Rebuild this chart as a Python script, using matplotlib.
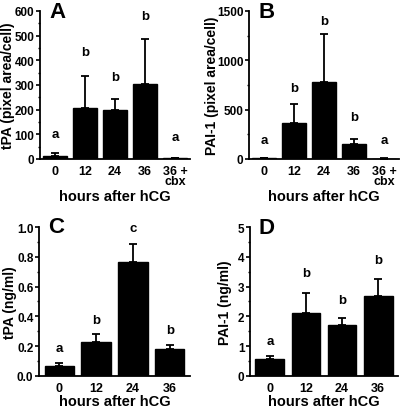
import matplotlib
matplotlib.use("Agg")
import matplotlib.pyplot as plt
from matplotlib.ticker import MultipleLocator

plt.rcParams['font.family'] = ['Liberation Sans', 'DejaVu Sans']
plt.rcParams['font.weight'] = 'bold'
plt.rcParams['axes.labelweight'] = 'bold'

cats5 = ["0", "12", "24", "36", "36 +\ncbx"]
cats4 = ["0", "12", "24", "36"]

a_vals = [13, 206, 198, 303, 2]
a_errs = [10, 132, 47, 184, 2]
a_lets = ["a", "b", "b", "b", "a"]
a_letpos = [101, 432, 331, 578, 90]

b_vals = [5, 367, 777, 147, 3]
b_errs = [4, 190, 488, 60, 2]
b_lets = ["a", "b", "b", "b", "a"]
b_letpos = [193, 716, 1399, 429, 193]

c_vals = [0.066, 0.228, 0.765, 0.18]
c_errs = [0.019, 0.052, 0.122, 0.026]
c_lets = ["a", "b", "c", "b"]
c_letpos = [0.186, 0.375, 0.99, 0.307]

d_vals = [0.57, 2.13, 1.71, 2.67]
d_errs = [0.10, 0.67, 0.22, 0.58]
d_lets = ["a", "b", "b", "b"]
d_letpos = [1.18, 3.45, 2.55, 3.9]

fig = plt.figure(figsize=(4.0, 4.1), dpi=100)

def panel(rect, cats, vals, errs, lets, letpos, ylim, major, minor, ylabel,
          fmt, xlim, letter, lpos, ylab_x, xlab_y):
    ax = fig.add_axes(rect)
    x = list(range(len(cats)))
    ax.bar(x, vals, width=0.8, color='black', edgecolor='black', zorder=2)
    ax.errorbar(x, vals, yerr=[[0]*len(errs), errs], fmt='none',
                ecolor='black', elinewidth=1.3, capsize=3, capthick=1.3, zorder=3)
    for xi, l, p in zip(x, lets, letpos):
        ax.text(xi, p, l, ha='center', va='center', fontsize=9.5, fontweight='bold')
    ax.set_xlim(*xlim)
    ax.set_ylim(*ylim)
    ax.yaxis.set_major_locator(MultipleLocator(major))
    ax.yaxis.set_minor_locator(MultipleLocator(minor))
    ax.yaxis.set_major_formatter(plt.FormatStrFormatter(fmt))
    ax.set_xticks(x)
    ax.set_xticklabels(cats, fontsize=9, fontweight='bold', linespacing=0.85)
    ax.tick_params(axis='x', length=0, pad=4)
    ax.tick_params(axis='y', which='major', length=3, width=1.2, pad=1.0, labelsize=8.5)
    ax.tick_params(axis='y', which='minor', length=1.8, width=1.0)
    for s in ['top', 'right']:
        ax.spines[s].set_visible(False)
    for s in ['left', 'bottom']:
        ax.spines[s].set_linewidth(1.3)
    ax.set_ylabel(ylabel, fontsize=10, fontweight='bold')
    ax.yaxis.set_label_coords(ylab_x, 0.5)
    ax.set_xlabel("hours after hCG", fontsize=10.5, fontweight='bold')
    ax.xaxis.set_label_coords(0.5, xlab_y)
    ax.xaxis.label.set_va('center')
    ax.yaxis.label.set_va('center')
    fig.text(lpos[0] / 400, 1 - lpos[1] / 410, letter, fontsize=16,
             fontweight='bold', ha='left', va='top')
    return ax

panel([0.1, 0.6098, 0.375, 0.361], cats5, a_vals, a_errs, a_lets, a_letpos,
      (0, 600), 100, 50, "tPA (pixel area/cell)", '%d', (-0.5, 4.5), "A", (49, 2),
      -0.213, -0.25)
panel([0.6225, 0.6098, 0.375, 0.361], cats5, b_vals, b_errs, b_lets, b_letpos,
      (0, 1500), 500, 250, "PAI-1 (pixel area/cell)", '%d', (-0.5, 4.5), "B", (258, 2),
      -0.245, -0.25)
panel([0.0975, 0.0805, 0.3775, 0.3634], cats4, c_vals, c_errs, c_lets, c_letpos,
      (0, 1.0), 0.2, 0.1, "tPA (ng/ml)", '%.1f', (-0.55, 3.55), "C", (48, 217),
      -0.19, -0.17)
panel([0.625, 0.0805, 0.37, 0.3634], cats4, d_vals, d_errs, d_lets, d_letpos,
      (0, 5), 1, 0.5, "PAI-1 (ng/ml)", '%d', (-0.55, 3.55), "D", (259, 218),
      -0.169, -0.17)

fig.savefig("out.png", dpi=100)
